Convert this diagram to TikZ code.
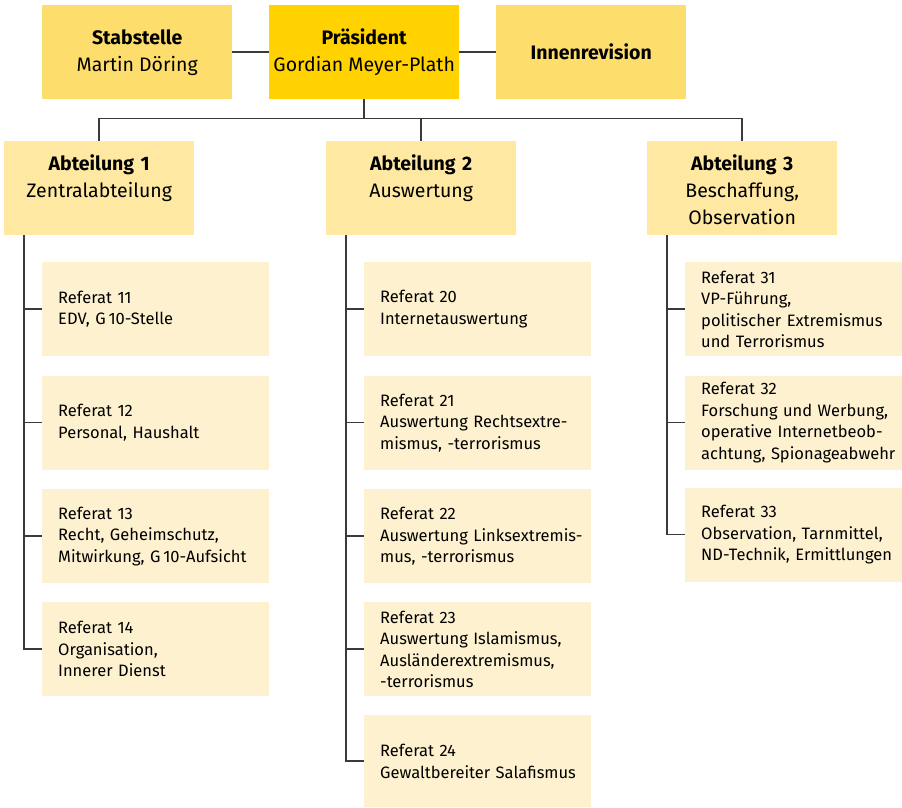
\documentclass[tikz,border=0pt]{standalone}
\usepackage{fontspec}
\setmainfont{Fira Sans}
\definecolor{praesgelb}{HTML}{FFD200}
\definecolor{stabgelb}{HTML}{FDDD6C}
\definecolor{abtgelb}{HTML}{FEE8A2}
\definecolor{refgelb}{HTML}{FEF1CF}
\definecolor{linie}{HTML}{3A3A3A}
\tikzset{
  topbox/.style={anchor=north west, fill=stabgelb, minimum width=190pt, minimum height=94pt,
    inner sep=0pt, align=center, font=\fontsize{19.5}{27}\selectfont},
  abtbox/.style={anchor=north west, fill=abtgelb, text width=190pt, inner xsep=0pt, inner ysep=12pt,
    text height=17pt, text depth=53pt, align=center, font=\fontsize{19.5}{27}\selectfont},
  refbox/.style={anchor=north west, fill=refgelb, text width=#1, minimum height=94pt, inner xsep=0pt,
    align=left, font=\fontsize{16.5}{21.5}\selectfont, execute at begin node={\leftskip=16pt\relax}},
  refbox/.default=227pt,
  verbindung/.style={draw=linie, line width=1.5pt}
}
\begin{document}
\begin{tikzpicture}[x=1pt,y=-1pt]
  \useasboundingbox (0,0) rectangle (902,807);
  % Leitung
  \node[topbox] (stab) at (42,5) {\textbf{Stabstelle}\\Martin Döring};
  \node[topbox, fill=praesgelb] (pres) at (269,5) {\textbf{Präsident}\\Gordian Meyer-Plath};
  \node[topbox] (innen) at (496,5) {\textbf{Innenrevision}};
  % Abteilungen
  \node[abtbox] (abt1) at (4,141) {\textbf{Abteilung 1}\\Zentralabteilung};
  \node[abtbox] (abt2) at (326,141) {\textbf{Abteilung 2}\\Auswertung};
  \node[abtbox] (abt3) at (647,141) {\textbf{Abteilung 3}\\Beschaffung,\\Observation};
  % Referate Abteilung 1
  \node[refbox] (r11) at (42,262) {Referat 11\\EDV, G\,10-Stelle};
  \node[refbox] (r12) at (42,375.5) {Referat 12\\Personal, Haushalt};
  \node[refbox] (r13) at (42,489) {Referat 13\\Recht, Geheimschutz,\\Mitwirkung, G\,10-Aufsicht};
  \node[refbox] (r14) at (42,602) {Referat 14\\Organisation,\\Innerer Dienst};
  % Referate Abteilung 2
  \node[refbox] (r20) at (364,262) {Referat 20\\Internetauswertung};
  \node[refbox] (r21) at (364,375.5) {Referat 21\\Auswertung Rechtsextre-\\mismus, -terrorismus};
  \node[refbox] (r22) at (364,489) {Referat 22\\Auswertung Linksextremis-\\mus, -terrorismus};
  \node[refbox] (r23) at (364,602) {Referat 23\\Auswertung Islamismus,\\Ausländerextremismus,\\-terrorismus};
  \node[refbox, minimum height=92pt] (r24) at (364,715) {Referat 24\\Gewaltbereiter Salafismus};
  % Referate Abteilung 3
  \node[refbox=217pt] (r31) at (685,262) {Referat 31\\VP-Führung,\\politischer Extremismus\\und Terrorismus};
  \node[refbox=217pt] (r32) at (685,375.5) {Referat 32\\Forschung und Werbung,\\operative Internetbeob-\\achtung, Spionageabwehr};
  \node[refbox=217pt] (r33) at (685,487.5) {Referat 33\\Observation, Tarnmittel,\\ND-Technik, Ermittlungen};
  % Linien
  \draw[verbindung] (stab) -- (pres);
  \draw[verbindung] (pres) -- (innen);
  \coordinate (bus) at ([yshift=-19pt]pres.south);
  \draw[verbindung] (pres.south) -- (bus) -| (abt1.north);
  \draw[verbindung] (bus) -| (abt2.north);
  \draw[verbindung] (bus) -| (abt3.north);
  \foreach \r in {r11,r12,r13,r14}
    \draw[verbindung] ([xshift=20pt]abt1.south west) |- (\r.west);
  \foreach \r in {r20,r21,r22,r23,r24}
    \draw[verbindung] ([xshift=20pt]abt2.south west) |- (\r.west);
  \foreach \r in {r31,r32,r33}
    \draw[verbindung] ([xshift=20pt]abt3.south west) |- (\r.west);
\end{tikzpicture}
\end{document}
